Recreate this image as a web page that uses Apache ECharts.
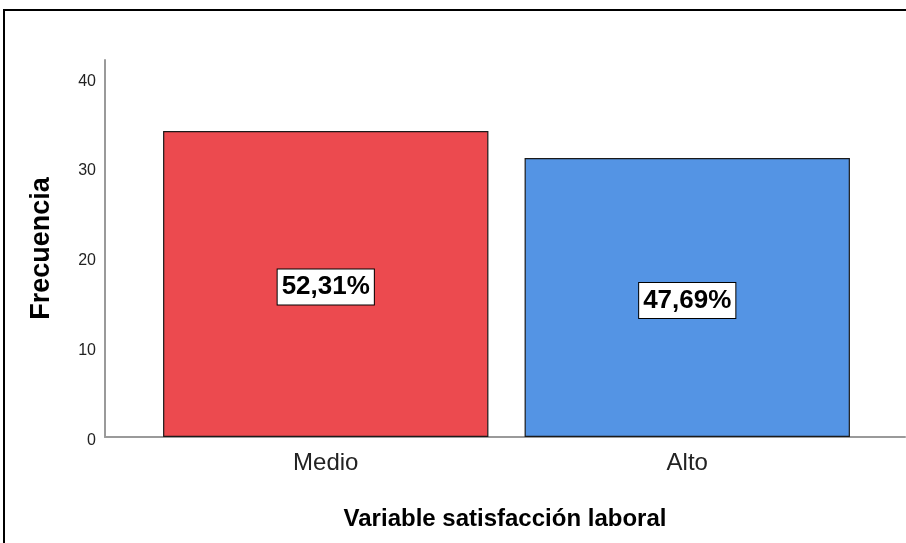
<!DOCTYPE html>
<html>
<head>
<meta charset="utf-8">
<script src="https://cdn.jsdelivr.net/npm/echarts@6/dist/echarts.min.js"></script>
<style>
	html, body { margin: 0; padding: 0; background: #fff; }
	#frame {
		position: absolute;
		left: 3px;
		top: 9px;
		right: 0;
		bottom: 0;
		border-left: 2px solid #000;
		border-top: 2px solid #000;
	}
	#myChart {
		position: absolute;
		left: 0;
		top: 0;
		width: 906px;
		height: 543px;
	}
</style>
</head>
<body>
<div id="frame"></div>
<div id="myChart"></div>
<script>
const categorias = ['Medio', 'Alto']
const frecuencias = [34, 31]
const porcentajes = ['52,31%', '47,69%']
const colores = ['#EC4A4F', '#5494E4']
const yTicks = [0, 10, 20, 30, 40]

const myChart = echarts.init(document.getElementById('myChart'))

const ejeGris = { show: true, lineStyle: { color: '#9a9a9a', width: 2 } }
const yMax = 41.9

let option = {
	animation: false,
	textStyle: { fontFamily: 'Arial, "Liberation Sans", sans-serif' },
	grid: [
		// marco de ejes (linea x larga como en SPSS)
		{ left: 105, right: 1, top: 60, bottom: 106 },
		// zona de barras
		{ left: 145, right: 38, top: 60, bottom: 106 }
	],
	xAxis: [{
		gridIndex: 0,
		type: 'value',
		min: 0,
		max: 1,
		axisLine: ejeGris,
		axisTick: { show: false },
		axisLabel: { show: false },
		splitLine: { show: false },
		name: 'Variable satisfacción laboral',
		nameLocation: 'middle',
		nameGap: 70,
		nameTextStyle: { fontSize: 24, fontWeight: 'bold', color: '#000' }
	}, {
		gridIndex: 1,
		type: 'category',
		data: categorias,
		axisLine: { show: false },
		axisTick: { show: false },
		axisLabel: { fontSize: 24, color: '#222', margin: 14 }
	}],
	yAxis: [{
		gridIndex: 0,
		type: 'value',
		min: 0,
		max: yMax,
		interval: 10,
		axisLine: ejeGris,
		axisTick: { show: false },
		splitLine: { show: false },
		axisLabel: {
			fontSize: 16,
			color: '#222',
			margin: 9,
			verticalAlign: 'top',
			padding: [-4, 0, 0, 0],
			showMaxLabel: false,
			formatter: v => (yTicks.indexOf(v) >= 0 ? String(v) : '')
		},
		name: 'Frecuencia',
		nameLocation: 'middle',
		nameGap: 50,
		nameTextStyle: { fontSize: 27, fontWeight: 'bold', color: '#000' }
	}, {
		gridIndex: 1,
		type: 'value',
		min: 0,
		max: yMax,
		show: false
	}],
	series: [{
		type: 'bar',
		xAxisIndex: 1,
		yAxisIndex: 1,
		barCategoryGap: '10%',
		data: frecuencias.map((v, i) => ({
			value: v,
			itemStyle: { color: colores[i] }
		})),
		itemStyle: {
			borderColor: '#1a1a1a',
			borderWidth: 1.2
		},
		label: {
			show: true,
			position: 'inside',
			offset: [0, 3],
			formatter: p => porcentajes[p.dataIndex],
			fontSize: 26,
			fontWeight: 'bold',
			color: '#000',
			backgroundColor: '#fff',
			borderColor: '#000',
			borderWidth: 1,
			padding: [5, 4, 4, 4]
		}
	}]
}
myChart.setOption(option)
</script>
</body>
</html>
